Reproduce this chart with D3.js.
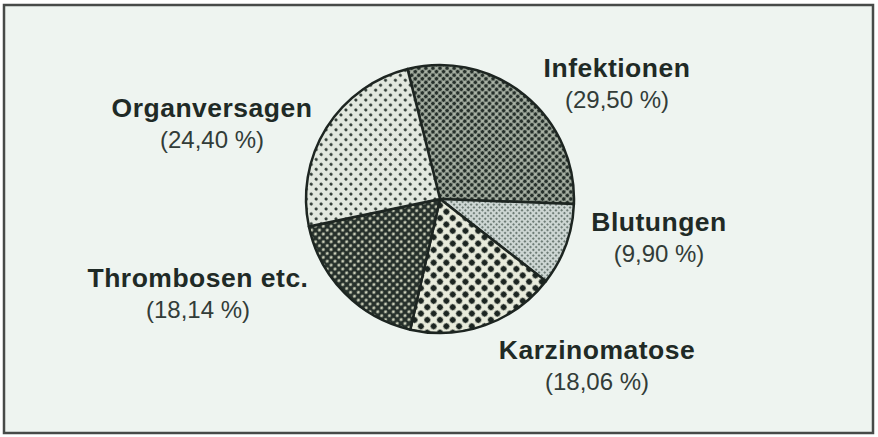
<!DOCTYPE html>
<html>
<head>
<meta charset="utf-8">
<script src="https://cdn.jsdelivr.net/npm/d3@7"></script>
<style>
  body { margin: 0; background: #ffffff; }
  svg { display: block; }
</style>
</head>
<body>
<div id="chart-container"></div>
<script>
// data
const categories = ['Infektionen', 'Blutungen', 'Karzinomatose', 'Thrombosen etc.', 'Organversagen'];
const values = [29.5, 9.9, 18.06, 18.14, 24.4];
const valueLabels = ['(29,50 %)', '(9,90 %)', '(18,06 %)', '(18,14 %)', '(24,40 %)'];
// label anchor points (centre of the two text lines)
const labelX = [617, 659, 597, 198, 212];
const labelY = [68, 222, 350, 278, 108];

// chart dimensions
const svgWidth = 878;
const svgHeight = 437;
const cx = 440;
const cy = 199;
const radius = 134;

const svg = d3
  .create('svg')
  .attr('width', svgWidth)
  .attr('height', svgHeight)
  .attr('viewBox', [0, 0, svgWidth, svgHeight]);

// halftone patterns, one per slice
const patterns = [
  { id: 'p0', size: 5, bg: '#aab3a6', dot: '#26302b', r: 1.9 },
  { id: 'p1', size: 4, bg: '#cdd6d3', dot: '#56665f', r: 1.05 },
  { id: 'p2', size: 9, bg: '#e9ecdc', dot: '#1c2521', r: 3.0 },
  { id: 'p3', size: 5.5, bg: '#26302b', dot: '#c9cdb8', r: 1.5 },
  { id: 'p4', size: 7, bg: '#e2e8df', dot: '#2a3530', r: 1.55 }
];

const defs = svg.append('defs');
patterns.forEach((p) => {
  const pat = defs
    .append('pattern')
    .attr('id', p.id)
    .attr('patternUnits', 'userSpaceOnUse')
    .attr('width', p.size)
    .attr('height', p.size)
    .attr('patternTransform', 'rotate(45)');
  pat.append('rect').attr('width', p.size).attr('height', p.size).attr('fill', p.bg);
  pat.append('circle').attr('cx', p.size / 2).attr('cy', p.size / 2).attr('r', p.r).attr('fill', p.dot);
});

// background + frame
svg
  .append('rect')
  .attr('x', 4)
  .attr('y', 5)
  .attr('width', 869)
  .attr('height', 428)
  .attr('fill', '#eef4f0')
  .attr('stroke', '#474a48')
  .attr('stroke-width', 2.5);

// pie
const pie = d3
  .pie()
  .sort(null)
  .startAngle(-0.245)
  .endAngle(-0.245 + 2 * Math.PI);
const arc = d3.arc().innerRadius(0).outerRadius(radius);

svg
  .append('g')
  .attr('transform', `translate(${cx},${cy})`)
  .attr('stroke', '#1d2521')
  .attr('stroke-width', 2.5)
  .attr('stroke-linejoin', 'round')
  .selectAll('path')
  .data(pie(values))
  .join('path')
  .attr('fill', (d, i) => `url(#${patterns[i].id})`)
  .attr('d', arc);

// labels
const labels = svg
  .append('g')
  .attr('font-family', 'Liberation Sans, Arial, Helvetica, sans-serif')
  .attr('text-anchor', 'middle')
  .attr('fill', '#1f2a26')
  .selectAll('g')
  .data(categories)
  .join('g');

labels
  .append('text')
  .attr('x', (d, i) => labelX[i])
  .attr('y', (d, i) => labelY[i] + 9)
  .attr('font-size', 26.5)
  .attr('font-weight', 'bold')
  .attr('letter-spacing', 0.5)
  .text((d) => d);

labels
  .append('text')
  .attr('x', (d, i) => labelX[i])
  .attr('y', (d, i) => labelY[i] + 40)
  .attr('font-size', 24)
  .attr('fill', '#323c38')
  .text((d, i) => valueLabels[i]);

document.querySelector('#chart-container').append(svg.node());
</script>
</body>
</html>
